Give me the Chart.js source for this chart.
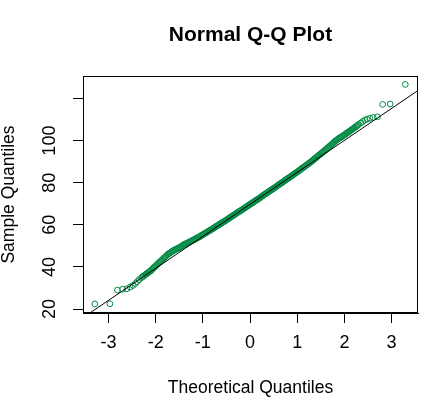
<!DOCTYPE html>
<html>
<head>
<meta charset="utf-8">
<script src="https://cdn.jsdelivr.net/npm/chart.js@4/dist/chart.umd.min.js"></script>
<style>
  html, body { margin: 0; padding: 0; background: #fff; }
  canvas { display: block; }
</style>
</head>
<body>
<canvas id="qq" width="428" height="404"></canvas>
<script>
// labels
const chartTitle = "Normal Q-Q Plot";
const xTitle = "Theoretical Quantiles";
const yTitle = "Sample Quantiles";
const xTicks = [-3, -2, -1, 0, 1, 2, 3];
const yTicks = [20, 40, 60, 80, 100, 120];
const yTickLabels = ["20", "40", "60", "80", "100", ""];

// lower tail, read point by point
const lowerTailX = [-3.29, -2.97, -2.81, -2.70, -2.61, -2.54, -2.48, -2.43, -2.39, -2.35];
const lowerTailY = [22.4, 22.5, 29.0, 29.4, 29.6, 30.4, 31.2, 32.1, 33.0, 33.9];

// dense body of the plot
const bodyX = [
  -2.30,-2.28,-2.26,-2.24,-2.22,-2.20,-2.18,-2.16,-2.14,-2.12,
  -2.10,-2.08,-2.06,-2.04,-2.02,-2.00,-1.98,-1.96,-1.94,-1.92,
  -1.90,-1.88,-1.86,-1.84,-1.82,-1.80,-1.78,-1.76,-1.74,-1.72,
  -1.70,-1.68,-1.66,-1.64,-1.62,-1.60,-1.58,-1.56,-1.54,-1.52,
  -1.50,-1.48,-1.46,-1.44,-1.42,-1.40,-1.38,-1.36,-1.34,-1.32,
  -1.30,-1.28,-1.26,-1.24,-1.22,-1.20,-1.18,-1.16,-1.14,-1.12,
  -1.10,-1.08,-1.06,-1.04,-1.02,-1.00,-0.98,-0.96,-0.94,-0.92,
  -0.90,-0.88,-0.86,-0.84,-0.82,-0.80,-0.78,-0.76,-0.74,-0.72,
  -0.70,-0.68,-0.66,-0.64,-0.62,-0.60,-0.58,-0.56,-0.54,-0.52,
  -0.50,-0.48,-0.46,-0.44,-0.42,-0.40,-0.38,-0.36,-0.34,-0.32,
  -0.30,-0.28,-0.26,-0.24,-0.22,-0.20,-0.18,-0.16,-0.14,-0.12,
  -0.10,-0.08,-0.06,-0.04,-0.02,0.00,0.02,0.04,0.06,0.08,
  0.10,0.12,0.14,0.16,0.18,0.20,0.22,0.24,0.26,0.28,
  0.30,0.32,0.34,0.36,0.38,0.40,0.42,0.44,0.46,0.48,
  0.50,0.52,0.54,0.56,0.58,0.60,0.62,0.64,0.66,0.68,
  0.70,0.72,0.74,0.76,0.78,0.80,0.82,0.84,0.86,0.88,
  0.90,0.92,0.94,0.96,0.98,1.00,1.02,1.04,1.06,1.08,
  1.10,1.12,1.14,1.16,1.18,1.20,1.22,1.24,1.26,1.28,
  1.30,1.32,1.34,1.36,1.38,1.40,1.42,1.44,1.46,1.48,
  1.50,1.52,1.54,1.56,1.58,1.60,1.62,1.64,1.66,1.68,
  1.70,1.72,1.74,1.76,1.78,1.80,1.82,1.84,1.86,1.88,
  1.90,1.92,1.94,1.96,1.98,2.00,2.02,2.04,2.06,2.08,
  2.10,2.12,2.14,2.16,2.18,2.20,2.22,2.24,2.26,2.28,
  2.30
];
const bodyY = [
  34.9,35.3,35.6,35.9,36.3,36.6,36.9,37.3,37.6,37.9,
  38.3,38.7,39.2,39.6,40.0,40.5,40.9,41.3,41.8,42.2,
  42.6,43.0,43.4,43.9,44.3,44.7,45.1,45.6,46.0,46.3,
  46.6,46.9,47.2,47.5,47.8,48.0,48.3,48.5,48.7,48.9,
  49.2,49.4,49.7,50.0,50.3,50.6,50.8,51.0,51.2,51.4,
  51.6,51.9,52.1,52.3,52.6,52.8,53.0,53.3,53.5,53.8,
  54.0,54.2,54.5,54.8,55.1,55.3,55.6,55.9,56.1,56.4,
  56.7,57.0,57.2,57.5,57.8,58.0,58.3,58.6,58.9,59.2,
  59.5,59.7,60.0,60.3,60.6,60.9,61.2,61.4,61.7,62.0,
  62.3,62.6,62.9,63.2,63.5,63.8,64.1,64.4,64.7,65.0,
  65.3,65.6,65.9,66.2,66.4,66.7,67.0,67.3,67.6,67.9,
  68.2,68.5,68.8,69.1,69.4,69.7,70.0,70.3,70.6,70.9,
  71.2,71.5,71.8,72.1,72.4,72.7,73.0,73.3,73.7,74.0,
  74.3,74.6,74.9,75.2,75.5,75.8,76.1,76.4,76.7,77.0,
  77.3,77.6,77.9,78.2,78.6,78.9,79.2,79.5,79.8,80.1,
  80.4,80.7,81.1,81.4,81.7,82.0,82.3,82.6,82.9,83.2,
  83.5,83.9,84.2,84.5,84.8,85.1,85.4,85.8,86.1,86.4,
  86.8,87.1,87.4,87.7,88.1,88.4,88.7,89.1,89.4,89.7,
  90.1,90.4,90.8,91.2,91.6,91.9,92.3,92.7,93.1,93.4,
  93.8,94.1,94.5,94.9,95.3,95.6,96.0,96.4,96.8,97.2,
  97.6,98.0,98.4,98.8,99.2,99.6,100.0,100.3,100.7,101.0,
  101.3,101.5,101.8,102.1,102.4,102.7,103.0,103.4,103.7,104.0,
  104.3,104.6,105.0,105.3,105.6,105.9,106.3,106.6,106.9,107.3,
  107.7
];

// upper tail
const upperTailX = [2.35, 2.39, 2.43, 2.48, 2.54, 2.61, 2.70, 2.81, 2.97, 3.29];
const upperTailY = [108.4, 109.1, 109.7, 110.2, 110.6, 111.0, 111.3, 117.2, 117.4, 126.7];

// qqline end points
const qqLineX = [-3.6, 3.6];
const qqLineY = [14.98, 124.42];

const theoretical = lowerTailX.concat(bodyX, upperTailX);
const sample = lowerTailY.concat(bodyY, upperTailY);

const fontFamily = "'Liberation Sans', Arial, sans-serif";

const titlePlugin = {
  id: "plotTitle",
  afterDraw(chart) {
    const { ctx, chartArea } = chart;
    ctx.save();
    ctx.font = "bold 21px " + fontFamily;
    ctx.fillStyle = "#000";
    ctx.textAlign = "center";
    ctx.textBaseline = "alphabetic";
    ctx.fillText(chartTitle, (chartArea.left + chartArea.right) / 2, 41);
    ctx.restore();
  }
};

// R style box round the plot region
const boxPlugin = {
  id: "plotBox",
  afterDatasetsDraw(chart) {
    const { ctx, chartArea } = chart;
    ctx.save();
    ctx.strokeStyle = "#000";
    ctx.lineWidth = 1;
    ctx.strokeRect(Math.round(chartArea.left) + 0.5, Math.round(chartArea.top) + 0.5,
      Math.round(chartArea.right - chartArea.left) - 1, Math.round(chartArea.bottom - chartArea.top) - 1);
    ctx.restore();
  }
};

const ctx = document.getElementById("qq");

new Chart(ctx, {
  type: "scatter",
  data: {
    datasets: [
      {
        label: "qqline",
        data: qqLineX.map((x, i) => ({ x: x, y: qqLineY[i] })),
        showLine: true,
        borderColor: "#000",
        borderWidth: 1,
        pointRadius: 0,
        order: 0
      },
      {
        label: "sample",
        data: theoretical.map((x, i) => ({ x: x, y: sample[i] })),
        pointStyle: "circle",
        pointRadius: 2.9,
        pointBorderWidth: 1,
        borderColor: "#008B45",
        backgroundColor: "rgba(0,0,0,0)",
        order: 1
      }
    ]
  },
  options: {
    responsive: false,
    animation: false,
    layout: { padding: { top: 76, right: 10, bottom: 0, left: 0 } },
    plugins: {
      legend: { display: false },
      tooltip: { enabled: false },
      title: { display: false }
    },
    scales: {
      x: {
        type: "linear",
        min: -3.54,
        max: 3.56,
        afterBuildTicks: s => { s.ticks = xTicks.map(v => ({ value: v })); },
        afterFit: s => { s.height = 91; },
        grid: { drawOnChartArea: false, tickLength: 10, color: "#000", tickColor: "#000" },
        border: { display: true, color: "#000" },
        ticks: {
          autoSkip: false, maxRotation: 0, padding: 9, color: "#000",
          font: { size: 18, family: fontFamily }
        },
        title: {
          display: true, text: xTitle, color: "#000",
          font: { size: 17.5, family: fontFamily },
          padding: { top: 0, bottom: 5 }
        }
      },
      y: {
        type: "linear",
        min: 18.1,
        max: 130.7,
        afterBuildTicks: s => { s.ticks = yTicks.map(v => ({ value: v })); },
        afterFit: s => { s.width = 83; },
        grid: { drawOnChartArea: false, tickLength: 10, color: "#000", tickColor: "#000" },
        border: { display: true, color: "#000" },
        ticks: {
          autoSkip: false, minRotation: 90, maxRotation: 90, crossAlign: "center",
          padding: 7.5, color: "#000",
          font: { size: 18, family: fontFamily },
          callback: v => yTickLabels[yTicks.indexOf(v)]
        },
        title: {
          display: true, text: yTitle, color: "#000",
          font: { size: 17.5, family: fontFamily },
          padding: { top: -1, bottom: 0 }
        }
      }
    }
  },
  plugins: [titlePlugin, boxPlugin]
});
</script>
</body>
</html>
